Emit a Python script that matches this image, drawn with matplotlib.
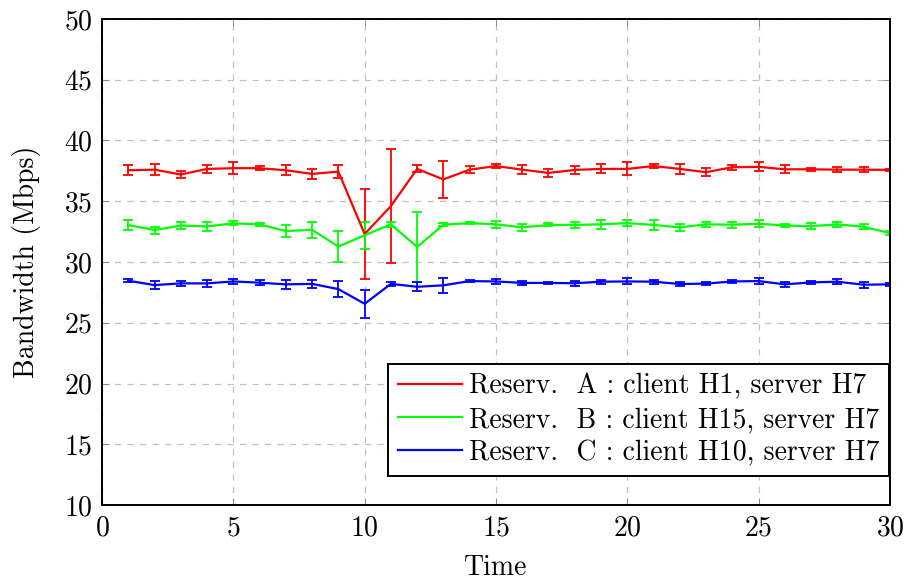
import numpy as np
import matplotlib
matplotlib.use("Agg")
import matplotlib.pyplot as plt

plt.rcParams["font.family"] = "cmr10"
plt.rcParams["mathtext.fontset"] = "cm"
plt.rcParams["axes.formatter.use_mathtext"] = True

time = list(range(1, 31))

bw_a = [37.55, 37.6, 37.2, 37.66, 37.72, 37.72, 37.55, 37.25, 37.44, 32.3,
        34.6, 37.66, 36.8, 37.6, 37.9, 37.6, 37.33, 37.58, 37.66, 37.66,
        37.9, 37.66, 37.39, 37.8, 37.83, 37.63, 37.63, 37.6, 37.6, 37.58]
err_a = [0.43, 0.44, 0.28, 0.32, 0.48, 0.18, 0.41, 0.44, 0.56, 3.7,
         4.7, 0.29, 1.5, 0.26, 0.2, 0.38, 0.32, 0.3, 0.37, 0.53,
         0.16, 0.38, 0.34, 0.19, 0.37, 0.32, 0.1, 0.23, 0.18, 0.1]

bw_b = [33.04, 32.63, 33.0, 32.93, 33.18, 33.1, 32.55, 32.65, 31.27, 32.2,
        33.1, 31.24, 33.07, 33.2, 33.1, 32.85, 33.05, 33.05, 33.1, 33.2,
        33.05, 32.85, 33.1, 33.07, 33.15, 33.0, 32.95, 33.1, 32.9, 32.38]
err_b = [0.42, 0.29, 0.26, 0.39, 0.17, 0.14, 0.5, 0.66, 1.3, 1.1,
         0.2, 2.9, 0.1, 0.1, 0.3, 0.28, 0.12, 0.26, 0.36, 0.22,
         0.4, 0.3, 0.18, 0.25, 0.28, 0.15, 0.22, 0.23, 0.2, 0.15]

bw_c = [28.46, 28.1, 28.24, 28.24, 28.4, 28.3, 28.16, 28.2, 27.77, 26.56,
        28.2, 27.96, 28.08, 28.43, 28.4, 28.28, 28.28, 28.25, 28.38, 28.4,
        28.38, 28.19, 28.22, 28.4, 28.43, 28.16, 28.32, 28.38, 28.13, 28.16]
err_c = [0.1, 0.3, 0.19, 0.27, 0.2, 0.18, 0.38, 0.3, 0.65, 1.13,
         0.15, 0.38, 0.6, 0.1, 0.23, 0.15, 0.1, 0.2, 0.15, 0.25,
         0.15, 0.19, 0.12, 0.1, 0.26, 0.22, 0.12, 0.18, 0.25, 0.12]

labels = ["Reserv.  A : client H1, server H7",
          "Reserv.  B : client H15, server H7",
          "Reserv.  C : client H10, server H7"]
colors = ["#ff0000", "#00ff00", "#0000ff"]

fig = plt.figure(figsize=(9.09, 5.86), dpi=100)
ax = fig.add_axes([0.1122, 0.1382, 0.8668, 0.8294])

handles = []
for y, e, c, lab in zip([bw_a, bw_b, bw_c], [err_a, err_b, err_c], colors, labels):
    cont = ax.errorbar(time, y, yerr=e, color=c, lw=1.6, elinewidth=1.3,
                       capsize=3.5, capthick=1.3, label=lab)
    handles.append(cont[0])

ax.set_xlim(0, 30)
ax.set_ylim(10, 50)
ax.set_xticks(np.arange(0, 31, 5))
ax.set_yticks(np.arange(10, 51, 5))
ax.grid(True, linestyle=(0, (5, 5)), color="#c0c0c0", lw=0.9)
ax.set_axisbelow(True)
ax.tick_params(direction="in", length=5, width=0.6, color="#808080",
               top=True, right=True, labelsize=20, pad=7)
for s in ax.spines.values():
    s.set_linewidth(1.4)

ax.set_xlabel("Time", fontsize=20, labelpad=10)
ax.set_ylabel("Bandwidth (Mbps)", fontsize=20, labelpad=16)

leg = ax.legend(handles, labels, loc="lower right", fontsize=20,
                fancybox=False, edgecolor="black", framealpha=1,
                handlelength=2.3, borderaxespad=0.0, labelspacing=0.25,
                borderpad=0.35, handletextpad=0.25)
leg.get_frame().set_linewidth(1.4)
leg.set_bbox_to_anchor((0.999, 0.06), transform=ax.transAxes)

fig.savefig("out.png", dpi=100)
